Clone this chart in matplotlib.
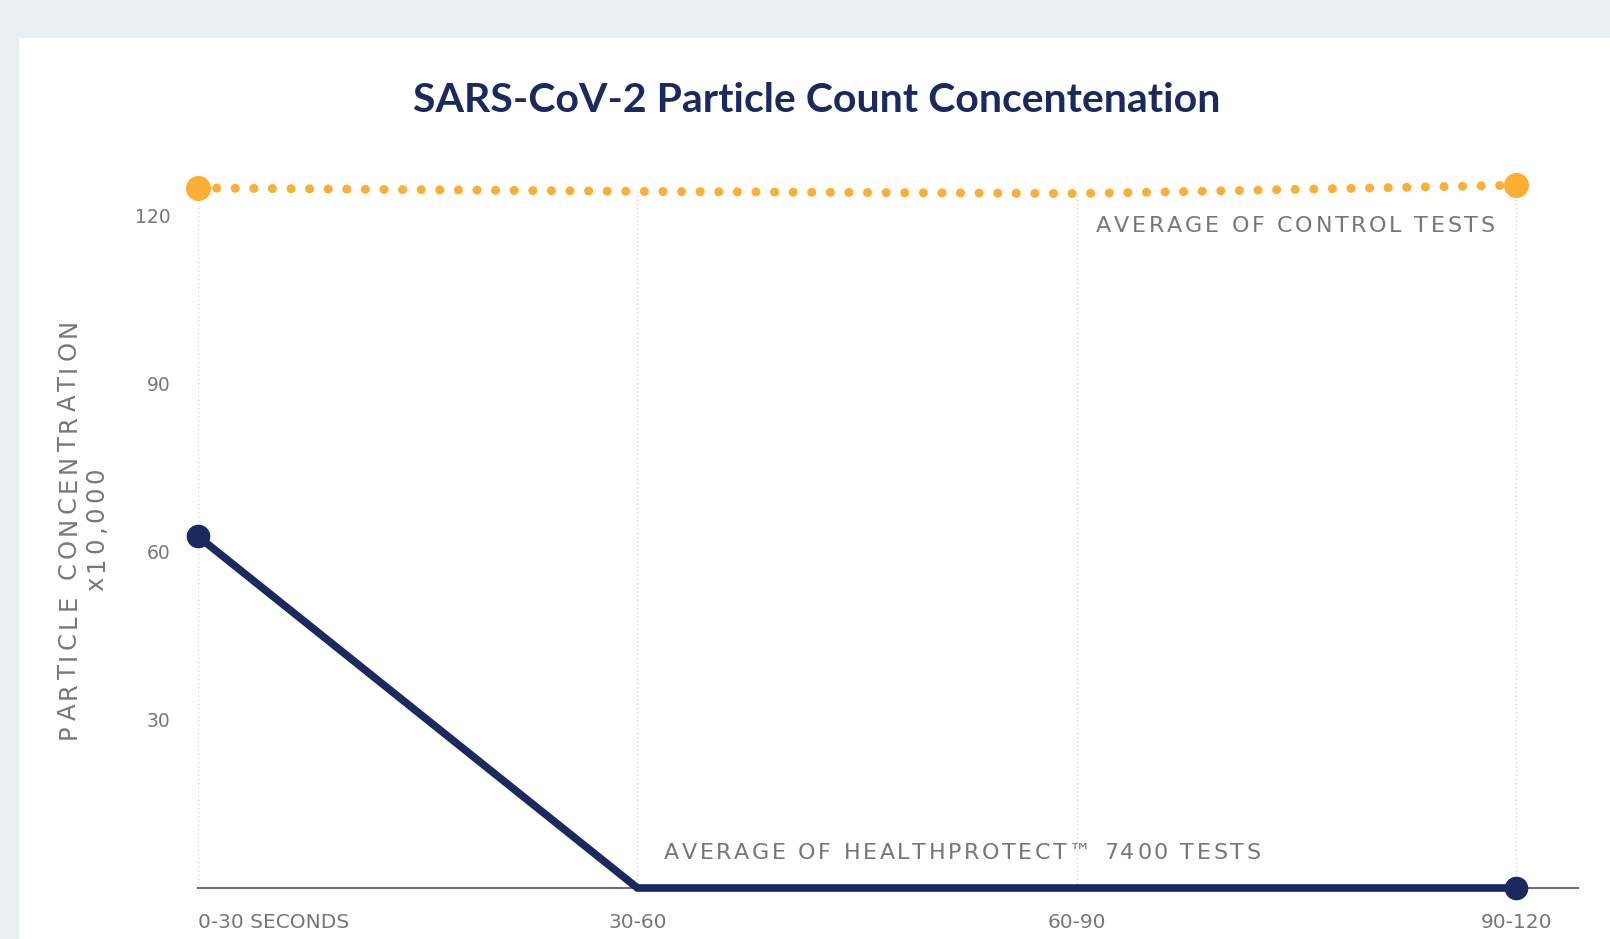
import matplotlib.pyplot as plt
from matplotlib.patches import Rectangle
from matplotlib.font_manager import FontProperties, findfont, get_font
from matplotlib.transforms import offset_copy

# data
categories = ['0-30 SECONDS', '30-60', '60-90', '90-120']
control_avg = [125.0, 124.4, 124.0, 125.5]
healthprotect_avg = [62.8, 0, 0, 0]
y_ticks = [30, 60, 90, 120]

navy = '#1b2a5e'
orange = '#fbb034'
grey = '#74777d'

plt.rcParams['font.family'] = ['Lato', 'DejaVu Sans']

fig = plt.figure(figsize=(16.1, 9.39), dpi=100)
fig.patch.set_facecolor('#e9eef3')
# white card behind the chart
fig.patches.append(Rectangle((18.5 / 1610, 0), 1, 1 - 38 / 939,
                             transform=fig.transFigure, facecolor='white',
                             edgecolor='none', zorder=-5))


def spaced_text(x, y, s, trans, size, track, ha='left', rotation=0):
    # letter-spaced text, one glyph at a time, each centred in its advance (track in px)
    fp = FontProperties(family='DejaVu Sans', size=size)
    ft = get_font(findfont(fp))
    ft.set_size(size, fig.dpi)
    adv = [ft.load_char(ord(c)).linearHoriAdvance / 65536 for c in s]
    total = sum(adv) + track * (len(s) - 1)
    pos = {'left': 0, 'center': -total / 2, 'right': -total}[ha]
    for c, a in zip(s, adv):
        mid = pos + a / 2
        dx, dy = (0, mid) if rotation == 90 else (mid, 0)
        fig.text(x, y, c, transform=offset_copy(trans, fig=fig, x=dx, y=dy, units='dots'),
                 ha='center', va='center', rotation=rotation, rotation_mode='anchor',
                 fontproperties=fp, color=grey)
        pos += a + track


ax = fig.add_axes([198 / 1610, 1 - 888 / 939, (1578 - 198) / 1610, (888 - 160) / 939])
ax.set_facecolor('none')

x = list(range(len(categories)))

# vertical dotted guides
ax.vlines(x, 0, control_avg, colors='#d3d6db', linestyles=(0, (1, 2)), linewidth=1, zorder=1)

ax.plot(x, control_avg, color=orange, linewidth=6.5, linestyle=(0, (0.01, 2.05)),
        dash_capstyle='round', marker='o', markersize=17, markevery=[0, 3],
        clip_on=False, zorder=3)
ax.plot(x, healthprotect_avg, color=navy, linewidth=5.5, solid_joinstyle='miter',
        marker='o', markersize=16, markevery=[0, 3], clip_on=False, zorder=4)

ax.set_xlim(0, 3.14)
ax.set_ylim(0, 130)
ax.set_xticks(x)
ax.set_xticklabels(categories, family='DejaVu Sans')
ax.set_yticks(y_ticks)
ax.set_yticklabels(y_ticks, family='DejaVu Sans')
ax.tick_params(length=0, colors=grey, labelsize=13.5)
ax.tick_params(axis='x', pad=18, labelsize=14.5)
ax.tick_params(axis='y', pad=20)
ax.get_xticklabels()[0].set_horizontalalignment('left')

for side in ['top', 'right', 'left']:
    ax.spines[side].set_visible(False)
ax.spines['bottom'].set_color('#6e7075')
ax.spines['bottom'].set_linewidth(1.5)

spaced_text(2.95, 118.3, 'AVERAGE OF CONTROL TESTS', ax.transData, 16, 2.7, ha='right')
spaced_text(1.06, 6.2, 'AVERAGE OF HEALTHPROTECT\u2122 7400 TESTS', ax.transData, 16, 2.6)

spaced_text(69 / 1610, 1 - 529 / 939, 'PARTICLE CONCENTRATION', fig.transFigure, 17.5, 4,
            ha='center', rotation=90)
spaced_text(96 / 1610, 1 - 529 / 939, 'x10,000', fig.transFigure, 17.5, 4,
            ha='center', rotation=90)

fig.text(817 / 1610, 1 - 100 / 939, 'SARS-CoV-2 Particle Count Concentenation',
         ha='center', va='center', color=navy, fontsize=29.5, fontweight='bold')

fig.savefig('out.png', dpi=100, facecolor=fig.get_facecolor())
